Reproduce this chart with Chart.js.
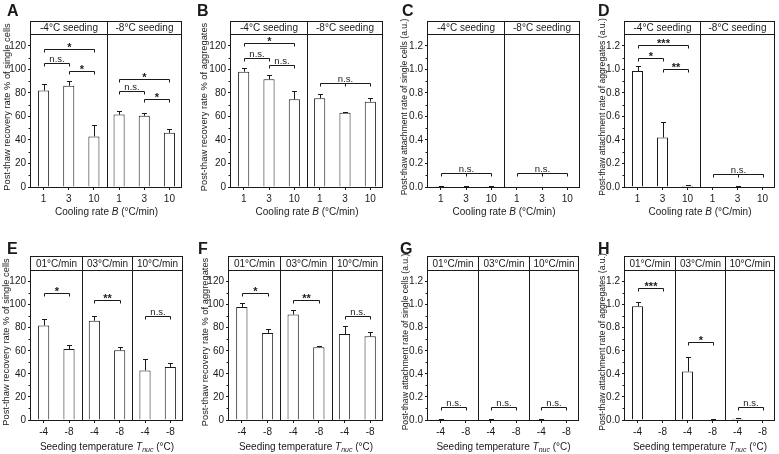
<!DOCTYPE html>
<html>
<head>
<meta charset="utf-8">
<script src="https://cdn.jsdelivr.net/npm/chart.js@4.4.1/dist/chart.umd.min.js"></script>
<style>
  body { margin: 0; background: #fff; width: 779px; height: 454px; position: relative; overflow: hidden;
         font-family: Arial, 'Liberation Sans', Helvetica, sans-serif; color: #1a1a1a; }
  canvas { position: absolute; }
  .letter { position: absolute; font-weight: bold; font-size: 16px; line-height: 16px; }
  .xtitle { position: absolute; font-size: 10px; line-height: 12px; white-space: nowrap; transform: translateX(-50%); }
  .xtitle sub { font-size: 7px; line-height: 0; vertical-align: -2px; }
</style>
</head>
<body>
<script>
'use strict';

// categories
const coolingRates = ['1', '3', '10', '1', '3', '10'];
const seedingTemps = ['-4', '-8', '-4', '-8', '-4', '-8'];
const seedingGroups = ['-4°C seeding', '-8°C seeding'];
const rateGroups = ['01°C/min', '03°C/min', '10°C/min'];

// top row (A-D): -4°C seeding at 1, 3, 10 °C/min, then -8°C seeding at 1, 3, 10
const singleRecovery    = [82, 86, 43, 61.5, 60.5, 46];
const singleRecoveryErr = [5.5, 4, 10, 3.5, 2.5, 3.5];
const aggRecovery       = [98, 91.5, 74.5, 75.5, 63, 72.5];
const aggRecoveryErr    = [3.5, 3.8, 7, 3.6, 0.8, 3.4];
const singleAttach      = [0.006, 0.005, 0.003, 0, 0, 0];
const singleAttachErr   = [0.004, 0.003, 0.003, 0, 0, 0];
const aggAttach         = [0.985, 0.42, 0.01, 0, 0.004, 0];
const aggAttachErr      = [0.04, 0.13, 0.005, 0, 0.002, 0];

// bottom row (E-H): 01°C/min at -4, -8, then 03°C/min, then 10°C/min
const singleRecoveryByRate    = [82, 61.5, 86, 60.5, 43, 46];
const singleRecoveryByRateErr = [5.5, 3.5, 4, 2.5, 10, 3.5];
const aggRecoveryByRate       = [98, 75.5, 91.5, 63, 74.5, 72.5];
const aggRecoveryByRateErr    = [3.5, 3.6, 3.8, 0.8, 7, 3.4];
const singleAttachByRate      = [0.006, 0, 0.005, 0, 0.003, 0];
const singleAttachByRateErr   = [0.004, 0, 0.003, 0, 0.003, 0];
const aggAttachByRate         = [0.985, 0, 0.42, 0.004, 0.01, 0];
const aggAttachByRateErr      = [0.04, 0, 0.13, 0.002, 0.005, 0];

// significance brackets: [from, to, level, label, middle tick]
const sigA = [[0, 1, 105, 'n.s.'], [1, 2, 98.5, '*'], [0, 2, 117, '*'], [3, 4, 81.5, 'n.s.'], [4, 5, 75, '*'], [3, 5, 92, '*']];
const sigB = [[0, 1, 110, 'n.s.'], [1, 2, 103.5, 'n.s.'], [0, 2, 122, '*'], [3, 5, 88, 'n.s.', 4]];
const sigC = [[0, 2, 0.12, 'n.s.', 1], [3, 5, 0.12, 'n.s.', 4]];
const sigD = [[0, 1, 1.1, '*'], [1, 2, 1.0, '**'], [0, 2, 1.21, '***'], [3, 5, 0.11, 'n.s.', 4]];
const sigE = [[0, 1, 110, '*'], [2, 3, 104, '**'], [4, 5, 90, 'n.s.']];
const sigF = [[0, 1, 110, '*'], [2, 3, 104, '**'], [4, 5, 90, 'n.s.']];
const sigG = [[0, 1, 0.11, 'n.s.'], [2, 3, 0.11, 'n.s.'], [4, 5, 0.11, 'n.s.']];
const sigH = [[0, 1, 1.14, '***'], [2, 3, 0.68, '*'], [4, 5, 0.115, 'n.s.']];

const INK = '#1a1a1a';
const FONT = "Arial, 'Liberation Sans', Helvetica, sans-serif";
Chart.defaults.font.family = FONT;
Chart.defaults.color = INK;

const rows = {
    top:    { y: 0,   headTop: 21, plotTop: 34, plotBottom: 187, xTitleY: 206, titleY: 107, letterY: 3 },
    bottom: { y: 227, headTop: 29, plotTop: 43, plotBottom: 193, xTitleY: 214, titleY: 115, letterY: 14 }
};

const axisPct = { max: 130, step: 20, last: 120, fmt: v => String(v) };
const axisRate = { max: 1.3, step: 0.2, last: 1.2, fmt: v => v.toFixed(1) };

const coolingTitle = 'Cooling rate <i>B</i> (°C/min)';
const seedingTitle = 'Seeding temperature <i>T</i><sub><i>nuc</i></sub> (°C)';

const panels = [
    { letter: 'A', row: 'top', x: 0,   w: 195, boxL: 31,  boxR: 182, tx: 7,   lx: 7,   size: 9.3,
      ytitle: 'Post-thaw recovery rate % of single cells', values: singleRecovery, errors: singleRecoveryErr,
      sig: sigA, labels: coolingRates, groups: seedingGroups, axis: axisPct, xtitle: coolingTitle },
    { letter: 'B', row: 'top', x: 195, w: 195, boxL: 231, boxR: 383, tx: 204, lx: 197, size: 9.3,
      ytitle: 'Post-thaw recovery rate % of aggregates', values: aggRecovery, errors: aggRecoveryErr,
      sig: sigB, labels: coolingRates, groups: seedingGroups, axis: axisPct, xtitle: coolingTitle },
    { letter: 'C', row: 'top', x: 390, w: 195, boxL: 428, boxR: 580, tx: 405, lx: 402, size: 8.6,
      ytitle: 'Post-thaw attachment rate of single cells (a.u.)', values: singleAttach, errors: singleAttachErr,
      sig: sigC, labels: coolingRates, groups: seedingGroups, axis: axisRate, xtitle: coolingTitle },
    { letter: 'D', row: 'top', x: 585, w: 194, boxL: 625, boxR: 775, tx: 603, lx: 598, size: 8.6,
      ytitle: 'Post-thaw attachment rate of aggregates (a.u.)', values: aggAttach, errors: aggAttachErr,
      sig: sigD, labels: coolingRates, groups: seedingGroups, axis: axisRate, xtitle: coolingTitle },
    { letter: 'E', row: 'bottom', x: 0,   w: 195, boxL: 31,  boxR: 183, tx: 6,   lx: 7,   size: 9.3,
      ytitle: 'Post-thaw recovery rate % of single cells', values: singleRecoveryByRate, errors: singleRecoveryByRateErr,
      sig: sigE, labels: seedingTemps, groups: rateGroups, axis: axisPct, xtitle: seedingTitle },
    { letter: 'F', row: 'bottom', x: 195, w: 195, boxL: 229, boxR: 383, tx: 205, lx: 198, size: 9.3,
      ytitle: 'Post-thaw recovery rate % of aggregates', values: aggRecoveryByRate, errors: aggRecoveryByRateErr,
      sig: sigF, labels: seedingTemps, groups: rateGroups, axis: axisPct, xtitle: seedingTitle },
    { letter: 'G', row: 'bottom', x: 390, w: 195, boxL: 428, boxR: 579, tx: 406, lx: 400, size: 8.6,
      ytitle: 'Post-thaw attachment rate of single cells (a.u.)', values: singleAttachByRate, errors: singleAttachByRateErr,
      sig: sigG, labels: seedingTemps, groups: rateGroups, axis: axisRate, xtitle: seedingTitle },
    { letter: 'H', row: 'bottom', x: 585, w: 194, boxL: 625, boxR: 775, tx: 603, lx: 598, size: 8.6,
      ytitle: 'Post-thaw attachment rate of aggregates (a.u.)', values: aggAttachByRate, errors: aggAttachByRateErr,
      sig: sigH, labels: seedingTemps, groups: rateGroups, axis: axisRate, xtitle: seedingTitle }
];

// header strip, frame, error bars, brackets, minor ticks and the y title
const figurePlugin = {
    id: 'figure',
    afterDraw(chart, args, o) {
        const ctx = chart.ctx;
        const { left, right, top, bottom } = chart.chartArea;
        const xs = chart.scales.x, ys = chart.scales.y;
        const px = i => Math.round(xs.getPixelForValue(i)) + 0.5;
        const py = v => ys.getPixelForValue(v);
        const seg = (x1, y1, x2, y2) => { ctx.beginPath(); ctx.moveTo(x1, y1); ctx.lineTo(x2, y2); ctx.stroke(); };

        ctx.save();
        ctx.strokeStyle = INK;
        ctx.fillStyle = INK;
        ctx.lineWidth = 1;

        const L = Math.round(left) - 0.5, R = Math.round(right) - 0.5;
        const T = o.headTop + 0.5, B = Math.round(bottom) + 0.5;
        ctx.strokeRect(L, T, R - L, B - T);
        seg(L, Math.round(top) + 0.5, R, Math.round(top) + 0.5);

        // group dividers and header labels
        const n = o.groups.length, per = chart.data.labels.length / n;
        const edges = [L];
        for (let g = 1; g < n; g++) {
            const xd = Math.round((xs.getPixelForValue(g * per - 1) + xs.getPixelForValue(g * per)) / 2) + 0.5;
            seg(xd, T, xd, B);
            edges.push(xd);
        }
        edges.push(R);
        ctx.font = `10px ${FONT}`;
        ctx.textAlign = 'center';
        ctx.textBaseline = 'middle';
        o.groups.forEach((name, g) => {
            ctx.fillText(name, (edges[g] + edges[g + 1]) / 2, (o.headTop + top) / 2 + 1);
        });

        // minor ticks
        const majors = ys.ticks.map(t => t.value);
        for (let k = 0; k < majors.length - 1; k++) {
            const ym = Math.round(py((majors[k] + majors[k + 1]) / 2)) + 0.5;
            seg(L - 2, ym, L, ym);
        }

        // error bars (upper whisker only)
        o.values.forEach((v, i) => {
            const e = o.errors[i];
            if (!e) return;
            const xb = px(i);
            const y1 = Math.round(py(v + e)) + 0.5;
            seg(xb, py(v), xb, y1);
            seg(xb - 2.5, y1, xb + 2.5, y1);
        });

        // significance brackets
        o.sig.forEach(([a, b, level, label, mid]) => {
            const x1 = px(a), x2 = px(b), y = Math.round(py(level)) + 0.5;
            seg(x1, y, x2, y);
            seg(x1, y, x1, y + 3);
            seg(x2, y, x2, y + 3);
            if (mid !== undefined) seg(px(mid), y, px(mid), y + 3);
            ctx.textBaseline = 'alphabetic';
            if (label[0] === '*') {
                ctx.font = `bold 11px ${FONT}`;
                ctx.fillText(label, (x1 + x2) / 2, y + 1.5);
            } else {
                ctx.font = `9.5px ${FONT}`;
                ctx.fillText(label, (x1 + x2) / 2, y - 2);
            }
        });

        // y title
        ctx.translate(o.titleX, o.titleY);
        ctx.rotate(-Math.PI / 2);
        ctx.font = `${o.titleSize}px ${FONT}`;
        ctx.textBaseline = 'middle';
        ctx.fillText(o.ytitle, 0, 0);
        ctx.restore();
    }
};

panels.forEach(p => {
    const row = rows[p.row];
    const h = 227;

    const canvas = document.createElement('canvas');
    canvas.width = p.w;
    canvas.height = h;
    canvas.style.left = p.x + 'px';
    canvas.style.top = row.y + 'px';
    document.body.appendChild(canvas);

    const letter = document.createElement('div');
    letter.className = 'letter';
    letter.textContent = p.letter;
    letter.style.left = p.lx + 'px';
    letter.style.top = (row.y + row.letterY) + 'px';
    document.body.appendChild(letter);

    const xt = document.createElement('div');
    xt.className = 'xtitle';
    xt.innerHTML = p.xtitle;
    xt.style.left = ((p.boxL + p.boxR) / 2) + 'px';
    xt.style.top = (row.y + row.xTitleY) + 'px';
    document.body.appendChild(xt);

    new Chart(canvas.getContext('2d'), {
        type: 'bar',
        data: {
            labels: p.labels,
            datasets: [{
                data: p.values,
                backgroundColor: '#ffffff',
                borderColor: INK,
                borderWidth: 1,
                barPercentage: 0.44,
                categoryPercentage: 1
            }]
        },
        options: {
            responsive: false,
            animation: false,
            events: [],
            layout: {
                padding: { top: row.plotTop, right: p.x + p.w - p.boxR, left: 0, bottom: 0 }
            },
            scales: {
                x: {
                    offset: true,
                    grid: { offset: false, drawOnChartArea: false, tickLength: 3, color: INK },
                    border: { display: false },
                    ticks: { font: { size: 10 }, color: INK, padding: 3, maxRotation: 0, autoSkip: false },
                    afterFit: scale => { scale.height = h - row.plotBottom; }
                },
                y: {
                    min: 0,
                    max: p.axis.max,
                    grid: { drawOnChartArea: false, tickLength: 3, color: INK },
                    border: { display: false },
                    ticks: {
                        stepSize: p.axis.step,
                        font: { size: 10 },
                        color: INK,
                        padding: 2,
                        callback: v => p.axis.fmt(v)
                    },
                    afterBuildTicks: scale => {
                        scale.ticks = scale.ticks.filter(t => t.value <= p.axis.last + 1e-9);
                    },
                    afterFit: scale => { scale.width = p.boxL - p.x; }
                }
            },
            plugins: {
                legend: { display: false },
                tooltip: { enabled: false },
                figure: {
                    headTop: row.headTop,
                    groups: p.groups,
                    values: p.values,
                    errors: p.errors,
                    sig: p.sig,
                    ytitle: p.ytitle,
                    titleSize: p.size,
                    titleX: p.tx - p.x,
                    titleY: row.titleY
                }
            }
        },
        plugins: [figurePlugin]
    });
});
</script>
</body>
</html>
